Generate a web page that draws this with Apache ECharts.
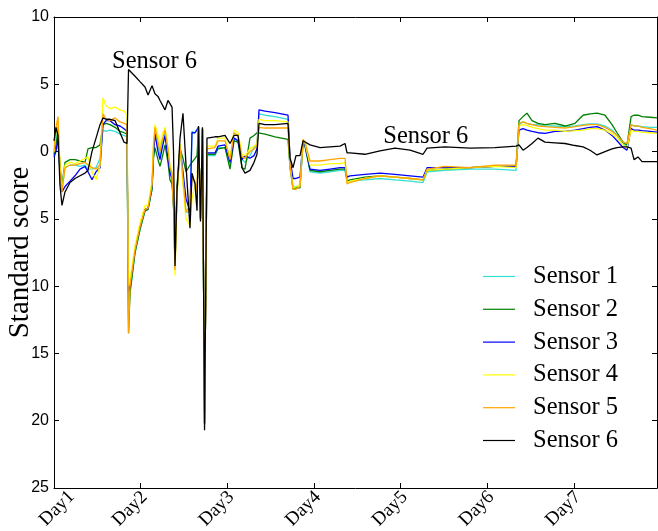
<!DOCTYPE html>
<html><head><meta charset="utf-8">
<script src="https://cdn.jsdelivr.net/npm/echarts@6/dist/echarts.min.js"></script>
<style>html,body{margin:0;padding:0;background:#fff}#c{width:658px;height:531px}</style>
</head><body><div id="c"></div>
<script>
const dayLabels = ['Day1','Day2','Day3','Day4','Day5','Day6','Day7'];
const yTicks = [-25,-20,-15,-10,-5,0,5,10];
const times = [
0,0.023,0.046,0.069,0.092,0.127,0.185,0.242,0.300,0.358,
0.392,0.438,0.485,0.531,0.565,0.600,0.646,0.704,0.762,0.808,
0.842,0.860,0.877,0.935,0.992,1.050,1.085,1.131,1.148,1.165,
1.200,1.223,1.246,1.281,1.315,1.338,1.362,1.379,1.396,1.419,
1.454,1.488,1.523,1.569,1.592,1.627,1.650,1.667,1.690,1.713,
1.737,1.765,1.858,1.892,1.973,2.031,2.077,2.123,2.169,2.204,
2.261,2.308,2.342,2.365,2.435,2.550,2.700,2.723,2.758,2.792,
2.838,2.873,2.896,2.954,3.069,3.185,3.300,3.358,3.381,3.415,
3.588,3.761,3.934,4.108,4.258,4.304,4.511,4.800,5.088,5.331,
5.365,5.411,5.457,5.515,5.584,5.665,5.780,5.896,6.011,6.104,
6.185,6.265,6.357,6.438,6.496,6.565,6.611,6.658,6.692,6.738,
6.784,6.877,6.957];
const sensor1 = [
-0.3,1.0,2.2,-1.5,-2.8,-1.2,-1.0,-1.0,-1.1,-1.0,
-1.3,-1.3,-1.2,-0.5,1.6,1.5,1.6,1.5,1.3,1.2,
1.1,-12.5,-10.5,-7.5,-5.8,-4.4,-4.3,-2.8,0.0,1.5,
0.5,-0.3,0.6,1.3,0.0,-1.3,-1.8,-4.0,-8.5,-3.0,
0.5,-2.0,-4.5,-4.5,1.5,1.4,1.3,1.8,-5.0,1.7,
-20.2,-0.3,-0.3,0.3,0.3,-1.0,1.0,0.8,-0.6,-0.8,
-0.3,0.3,0.6,2.8,2.7,2.6,2.4,-1.0,-2.6,-2.6,
-2.5,0.7,0.4,-1.5,-1.6,-1.5,-1.4,-1.4,-2.2,-2.2,
-2.1,-2.0,-2.1,-2.2,-2.3,-1.5,-1.4,-1.3,-1.3,-1.4,
2.0,2.2,2.1,2.0,2.0,1.9,1.9,1.85,1.9,2.0,
2.05,2.05,1.9,1.6,1.2,0.6,0.4,2.0,1.9,1.9,
1.85,1.8,1.8];
const sensor2 = [
-0.2,0.5,1.5,-1.0,-2.5,-0.8,-0.6,-0.6,-0.7,-0.8,
0.2,0.3,0.3,0.5,2.0,2.1,2.0,1.8,1.5,1.4,
1.3,-13.5,-10.5,-7.5,-5.8,-4.4,-4.3,-2.8,-0.5,0.3,
-0.6,-1.1,-0.5,0.5,-0.8,-2.1,-2.4,-4.0,-7.5,-2.5,
0.2,-0.5,-1.5,-1.0,-0.8,-0.5,-0.3,1.8,-5.0,1.7,
-20.2,-0.2,-0.2,0.2,0.3,-1.3,0.8,0.7,-1.2,-1.3,
1.0,1.2,1.4,1.4,1.3,1.1,0.9,-1.2,-2.8,-2.7,
-2.7,0.6,0.4,-1.4,-1.5,-1.4,-1.3,-1.3,-2.2,-2.1,
-1.9,-1.8,-1.9,-2.0,-2.1,-1.4,-1.3,-1.2,-1.1,-1.1,
2.3,2.6,2.85,2.3,2.1,2.0,2.1,1.9,2.1,2.7,
2.8,2.85,2.7,2.0,1.4,0.7,0.5,2.6,2.7,2.7,
2.6,2.55,2.5];
const sensor3 = [
-0.4,0.0,1.0,-1.5,-3.0,-2.6,-2.2,-1.8,-1.3,-1.1,
-1.5,-2.1,-1.5,-1.2,2.0,2.3,2.3,2.0,1.9,1.7,
1.5,-10.4,-10.0,-7.3,-5.6,-4.3,-4.2,-2.6,-0.2,1.3,
0.0,-0.6,0.2,1.2,-0.5,-1.6,-2.0,-4.0,-8.6,-3.0,
0.3,-1.5,-3.5,-4.5,1.4,1.4,1.3,1.8,-5.0,1.7,
-20.2,-0.1,-0.1,0.4,0.5,-0.8,1.0,0.8,-0.6,-0.3,
-0.5,-0.3,0.2,3.1,3.0,2.9,2.7,-0.5,-2.0,-2.0,
-1.9,0.8,0.5,-1.3,-1.4,-1.3,-1.2,-1.2,-1.9,-1.8,
-1.7,-1.6,-1.7,-1.8,-1.9,-1.2,-1.2,-1.2,-1.1,-1.1,
1.6,1.7,1.6,1.5,1.4,1.35,1.5,1.5,1.6,1.7,
1.8,1.85,1.6,1.2,0.8,0.3,0.1,1.7,1.6,1.6,
1.55,1.5,1.45];
const sensor4 = [
0.0,1.5,2.4,-1.0,-2.8,-1.0,-0.8,-0.9,-0.7,-0.5,
-0.4,-1.5,-2.1,-1.0,4.0,3.4,3.2,3.3,3.1,3.0,
2.7,-10.0,-9.5,-7.0,-5.3,-4.0,-4.0,-2.2,0.8,2.0,
1.2,0.4,1.2,1.8,0.3,-1.0,-1.5,-4.0,-9.2,-3.5,
0.6,-2.5,-5.0,-5.5,-3.5,-2.5,-3.0,1.8,-5.0,1.7,
-20.3,0.4,0.4,1.0,1.0,-0.5,1.6,1.4,-0.2,-0.3,
0.2,0.4,0.6,2.4,2.3,2.3,2.2,-1.0,-2.7,-2.6,
-2.5,0.9,0.6,-1.0,-1.0,-0.9,-0.9,-0.8,-2.3,-2.2,
-2.0,-1.8,-1.9,-2.0,-2.1,-1.4,-1.3,-1.2,-1.1,-1.2,
1.9,2.0,1.95,1.8,1.7,1.6,1.6,1.5,1.55,1.6,
1.7,1.7,1.6,1.3,1.0,0.5,0.3,1.6,1.5,1.5,
1.45,1.4,1.35];
const sensor5 = [
0.0,1.8,2.6,-1.5,-3.0,-1.2,-1.0,-1.0,-0.9,-0.8,
-1.0,-1.2,-1.3,-1.0,2.8,2.4,2.3,2.5,2.2,2.1,
2.0,-13.5,-10.0,-7.3,-5.6,-4.3,-4.2,-2.5,0.4,1.8,
0.7,0.0,0.8,1.6,0.2,-1.2,-1.6,-4.0,-8.8,-3.0,
0.4,-2.0,-4.5,-4.0,-2.0,-2.2,-3.0,1.8,-5.0,1.7,
-20.3,0.2,0.3,0.8,0.8,-0.6,1.4,1.2,-0.4,-0.5,
0.0,0.2,0.4,1.8,1.75,1.75,1.75,-1.0,-2.8,-2.8,
-2.6,0.9,0.7,-0.7,-0.7,-0.6,-0.5,-0.5,-2.4,-2.3,
-2.0,-1.8,-1.9,-2.0,-2.1,-1.3,-1.1,-1.2,-1.0,-1.0,
2.1,2.2,2.1,2.0,1.9,1.85,1.8,1.75,1.85,1.95,
2.0,2.0,1.8,1.5,1.2,0.7,0.6,2.0,1.9,1.9,
1.8,1.7,1.6];
const sensor6 = [
0.8,1.8,1.2,-2.5,-4.0,-3.0,-2.3,-2.0,-1.8,-1.6,
-1.4,0.0,1.0,2.0,2.5,2.4,2.4,2.3,1.4,0.7,
0.6,6.1,6.0,5.6,5.2,4.8,4.2,4.9,4.6,4.3,
4.1,3.8,3.8,3.1,3.8,3.7,3.3,0.0,-8.5,-3.0,
1.0,2.85,-1.0,-5.7,-1.6,-2.4,-4.4,1.9,-5.2,1.8,
-20.7,1.0,1.1,1.1,1.2,0.6,1.2,1.2,-1.2,-1.6,
-1.4,-0.8,-0.2,2.1,2.0,2.0,2.1,-0.5,-1.2,-0.3,
-0.3,0.8,0.9,0.5,0.3,0.35,0.4,0.6,-0.1,-0.1,
-0.2,0.05,0.25,0.1,-0.2,0.25,0.35,0.25,0.3,0.4,
0.5,0.1,0.3,0.6,1.0,0.7,0.65,0.6,0.45,0.35,
0.1,-0.25,0.0,0.2,0.3,0.35,0.35,0.25,-0.6,-0.4,
-0.75,-0.75,-0.75];
const seriesNames = ['Sensor 1','Sensor 2','Sensor 3','Sensor 4','Sensor 5','Sensor 6'];
const seriesValues = [sensor1, sensor2, sensor3, sensor4, sensor5, sensor6];
const annotationTexts = ['Sensor 6','Sensor 6'];
const annotationTimes = [1.16, 4.29];
const annotationValues = [6.66, 1.08];

const colors = ['#33e0d4','#008000','#0000ff','#ffff00','#ffa500','#000000'];
const SERIF = '"Liberation Serif","DejaVu Serif",serif';
const SANS = '"Liberation Sans",Arial,sans-serif';

const chart = echarts.init(document.getElementById('c'), null, {renderer:'canvas'});
const axisCommon = {
  type:'value',
  axisLine:{show:true, onZero:false, lineStyle:{color:'#000', width:1}},
  axisTick:{show:true, inside:true, length:5, lineStyle:{color:'#000', width:1}},
  splitLine:{show:false}
};
const xMin = 0, xMax = 6.957;
const series = seriesValues.map((vals, i) => ({
  name: seriesNames[i],
  type:'line',
  symbol:'none',
  showSymbol:false,
  color: colors[i],
  lineStyle:{width:1.3, color: colors[i]},
  data: times.map((t, k) => [t, vals[k]]),
  z: 2 + i,
  animation:false
}));
series[5].markPoint = {
  silent:true,
  symbol:'circle',
  symbolSize:1,
  itemStyle:{color:'rgba(0,0,0,0)'},
  label:{show:true, position:'inside', formatter:'{b}', fontFamily:SERIF, fontSize:24.5, color:'#000'},
  data: annotationTexts.map((s, k) => ({name:s, coord:[annotationTimes[k], annotationValues[k]]}))
};

chart.setOption({
  animation:false,
  backgroundColor:'#fff',
  grid:{left:54, right:1, top:17, bottom:43, outerBoundsMode:'none', containLabel:false},
  xAxis:[
    Object.assign({}, axisCommon, {
      position:'bottom', min:xMin, max:xMax, interval:1,
      axisLabel:{show:true, rotate:45, margin:8, fontFamily:SERIF, fontSize:19, color:'#000',
        formatter: v => {
          const r = Math.round(v);
          if (Math.abs(v - r) > 1e-6 || !dayLabels[r]) return '';
          return (r === 0 ? '{f|' : '{o|') + dayLabels[r] + '}';
        },
        rich:{
          f:{fontFamily:SERIF, fontSize:19, color:'#000', padding:[22,-14,0,0]},
          o:{fontFamily:SERIF, fontSize:19, color:'#000', padding:[3,-4,0,0]}
        }}
    }),
    Object.assign({}, axisCommon, {
      position:'top', min:xMin, max:xMax, interval:1, axisLabel:{show:false}
    })
  ],
  yAxis:[
    Object.assign({}, axisCommon, {
      position:'left', min:yTicks[0], max:yTicks[yTicks.length-1], interval:5,
      name:'Standard score', nameLocation:'middle', nameGap:19, nameMoveOverlap:false,
      nameTextStyle:{fontFamily:SERIF, fontSize:29, color:'#000'},
      axisLabel:{show:true, margin:5, fontFamily:SANS, fontSize:16, color:'#000',
        formatter: v => String(Math.abs(v))}
    }),
    Object.assign({}, axisCommon, {
      position:'right', min:yTicks[0], max:yTicks[yTicks.length-1], interval:5, axisLabel:{show:false}
    })
  ],
  legend:{
    orient:'vertical', left:478, top:259,
    itemWidth:32, itemHeight:10, itemGap:7.8,
    data: seriesNames.map((n, i) => ({name:n, icon:'path://M0,4.4 L32,4.4 L32,5.6 L0,5.6 Z', itemStyle:{color:colors[i]}})),
    textStyle:{fontFamily:SERIF, fontSize:24.5, color:'#000', lineHeight:24, padding:[0,0,0,13]}
  },
  series: series
});
</script>
</body></html>
